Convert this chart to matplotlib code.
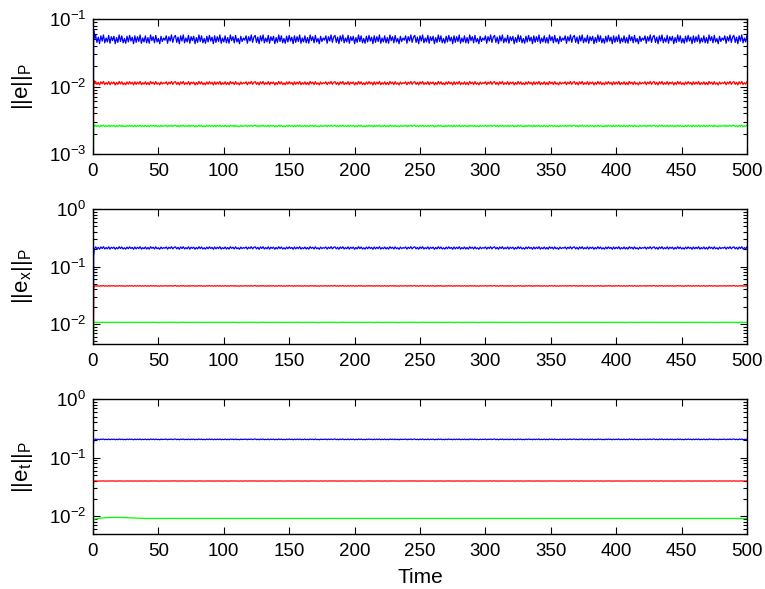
import numpy as np
import matplotlib
matplotlib.use("Agg")
import matplotlib.pyplot as plt
from matplotlib.ticker import LogLocator, NullFormatter

plt.rcParams['font.family'] = ['Liberation Sans', 'DejaVu Sans']
plt.rcParams['mathtext.fontset'] = 'custom'
plt.rcParams['mathtext.rm'] = 'Liberation Sans'
plt.rcParams['mathtext.it'] = 'Liberation Sans:italic'
plt.rcParams['mathtext.bf'] = 'Liberation Sans:bold'

# ---------------- data ----------------
x_ticks = [0, 50, 100, 150, 200, 250, 300, 350, 400, 450, 500]
y_labels = ['||e||$_\\mathregular{P}$',
            '||e$_\\mathregular{x}$||$_\\mathregular{P}$',
            '||e$_\\mathregular{t}$||$_\\mathregular{P}$']
y_limits = [(1e-3, 1e-1), (4.5e-3, 1e0), (5e-3, 1e0)]
colors = ['#0000ff', '#ff0000', '#00ff00']

# steady grid (time units) and steady levels per panel (blue, red, green)
steady_t = np.arange(2.0, 500.01, 1.0)
levels_top = [0.050, 0.0112, 0.0026]
levels_mid = [0.210, 0.046, 0.0107]
levels_bot = [0.205, 0.040, 0.0092]
# ripple half-width (in decades)
ripple_top = [0.065, 0.026, 0.012]
ripple_mid = [0.022, 0.006, 0.004]
ripple_bot = [0.007, 0.003, 0.0015]
# ripple shape read from the wiggles (relative, -1..1)
ripple_shape = [0.9, -0.7, 0.5, -1.0, 0.8, -0.4, 1.0, -0.8, 0.3, -0.6,
                0.9, -0.9, 0.6, -0.3, 0.7, -1.0, 0.4, -0.7, 1.0, -0.5,
                0.8, -0.8, 0.2, -0.9, 0.7, -0.6, 0.9, -0.4, 0.5, -1.0,
                0.8, -0.7, 0.6, -0.5, 1.0, -0.9, 0.3, -0.6, 0.8, -0.8,
                0.4, -0.9, 1.0, -0.3, 0.6, -0.8, 0.9, -0.6, 0.2, -1.0,
                0.7, -0.5, 0.3, -0.2, 0.8, -0.9, 0.6, -0.4, 1.0, -0.7,
                0.5]

# initial transients (time, value)
early_t_top = [0.0, 0.5, 1.0, 1.5]
early_top = [[1e-4, 0.068, 0.058, 0.052],
             [1e-4, 0.0125, 0.0115, 0.0110],
             [1e-4, 0.0027, 0.0026, 0.0026]]
early_t_mid = [0.0, 0.5, 1.0, 1.5]
early_mid = [[1e-4, 0.150, 0.200, 0.210],
             [1e-4, 0.040, 0.045, 0.046],
             [1e-4, 0.0105, 0.0107, 0.0107]]
early_t_bot = [0.0, 0.5, 1.0, 1.5]
early_bot = [[0.150, 0.185, 0.200, 0.205],
             [0.033, 0.038, 0.040, 0.040],
             [0.0084, 0.0087, 0.0089, 0.0090]]
# slow bump of the bottom green curve
bump_t = [5, 10, 15, 20, 25, 30, 35, 40]
bump_v = [0.0093, 0.0095, 0.0096, 0.0096, 0.0095, 0.0094, 0.0093, 0.0092]

panels = [
    (levels_top, ripple_top, early_t_top, early_top),
    (levels_mid, ripple_mid, early_t_mid, early_mid),
    (levels_bot, ripple_bot, early_t_bot, early_bot),
]

# ---------------- figure ----------------
W, H = 765, 589
fig = plt.figure(figsize=(W / 100, H / 100), dpi=100)
boxes = [(93, 19, 747, 154), (93, 209, 747, 344), (93, 399, 747, 534)]

shape = np.resize(np.array(ripple_shape), steady_t.size)

for i, (box, (levels, ripples, et, ev)) in enumerate(zip(boxes, panels)):
    x0, y0, x1, y1 = box
    ax = fig.add_axes([x0 / W, 1 - y1 / H, (x1 - x0) / W, (y1 - y0) / H])
    for k in range(3):
        steady = levels[k] * 10 ** (ripples[k] * shape)
        if i == 2 and k == 2:
            t_all = np.concatenate([et, bump_t, steady_t[steady_t > 40]])
            v_all = np.concatenate([ev[k], bump_v, steady[steady_t > 40]])
        else:
            t_all = np.concatenate([et, steady_t])
            v_all = np.concatenate([ev[k], steady])
        ax.plot(t_all, v_all, color=colors[k], lw=0.9)
    ax.set_yscale('log')
    ax.set_xlim(0, 500)
    ax.set_ylim(*y_limits[i])
    ax.set_xticks(x_ticks)
    ax.yaxis.set_minor_locator(LogLocator(base=10, subs=np.arange(2, 10)))
    ax.yaxis.set_minor_formatter(NullFormatter())
    ax.tick_params(which='both', direction='in', top=True, right=True,
                   labelsize=13.5, width=0.8)
    ax.tick_params(which='major', length=5)
    ax.tick_params(axis='x', which='major', pad=6.5)
    ax.tick_params(axis='y', which='major', pad=5)
    ax.tick_params(which='minor', length=3)
    for s in ax.spines.values():
        s.set_linewidth(1.0)
    ax.set_ylabel(y_labels[i], fontsize=16)
    ax.yaxis.set_label_coords(-0.088, 0.5)
    if i == 2:
        ax.set_xlabel('Time', fontsize=15, labelpad=6)

fig.savefig('out.png', dpi=100)
